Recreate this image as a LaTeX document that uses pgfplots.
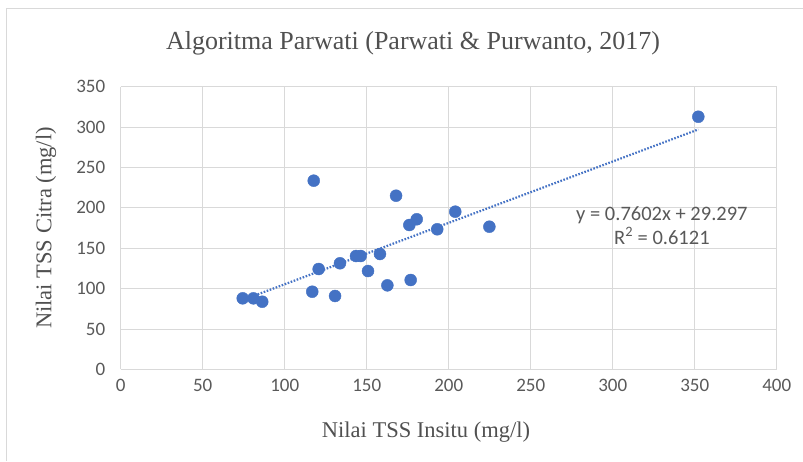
\documentclass[border=0pt]{standalone}
\usepackage{pgfplots}
\pgfplotsset{compat=1.18}
\usepackage{fontspec}
\setmainfont{Liberation Serif}
\newfontfamily\calfont{Carlito}
\definecolor{dotblue}{HTML}{4472C4}
\definecolor{gridgray}{HTML}{D9D9D9}
\definecolor{ticktext}{HTML}{595959}

\begin{document}
\begin{tikzpicture}
  \path[use as bounding box] (0,0) rectangle (803pt,461pt);
  % chart frame (left and top edges visible)
  \draw[gray!30, line width=1pt] (6pt,0) -- (6pt,452pt) -- (803pt,452pt);
  \node[font=\fontsize{26}{30}\selectfont, text=ticktext!90!black] at (413pt,418pt)
    {Algoritma Parwati (Parwati \& Purwanto, 2017)};
  \begin{axis}[
      at={(120.7pt,91.7pt)}, anchor=south west,
      scale only axis, width=656pt, height=282.6pt,
      xmin=0, xmax=400, ymin=0, ymax=350,
      xtick={0,50,...,400}, ytick={0,50,...,350},
      grid=major, grid style={gridgray, line width=0.8pt},
      axis line style={draw=none},
      major tick length=0pt,
      /pgf/number format/assume math mode=true,
      tick label style={font=\calfont\fontsize{19}{22}\selectfont, text=ticktext},
      xticklabel style={yshift=-6pt},
      yticklabel style={xshift=-12pt},
      xlabel={Nilai TSS Insitu (mg/l)},
      ylabel={Nilai TSS Citra (mg/l)},
      label style={font=\fontsize{22.5}{26}\selectfont, text=ticktext!90!black},
      xlabel style={at={(axis description cs:0.4654,-0.223)}, anchor=center},
      ylabel style={at={(axis description cs:-0.114,0.5)}, anchor=center, rotate=0},
      clip=false,
    ]
    % linear trendline y = 0.7602x + 29.297 over the data range
    \addplot[dotblue, line width=2.2pt, dash pattern=on 1.6pt off 1.6pt]
      coordinates {(74.4,85.86)(352.2,297.04)};
    \addplot[only marks, mark=*, mark size=6pt, mark options={fill=dotblue, draw=dotblue}]
      coordinates {
        (74.4,87.9)(80.9,87.9)(86.3,83.7)(117.7,233.6)(120.7,124.2)
        (116.8,96.1)(130.7,90.8)(133.7,131.3)(143.5,140.3)(146.3,140.3)
        (150.8,121.7)(158.1,142.8)(162.6,104.0)(167.9,215.0)(176.0,178.7)
        (180.5,185.8)(176.8,110.6)(193.0,173.4)(204.0,195.2)(224.8,176.6)
        (352.2,312.8)};
    \node[font=\calfont\fontsize{20.5}{24}\selectfont, text=ticktext, align=center]
      at (axis cs:330,178) {y = 0.7602x + 29.297\\[0pt]R\textsuperscript{2} = 0.6121};
  \end{axis}
\end{tikzpicture}
\end{document}
